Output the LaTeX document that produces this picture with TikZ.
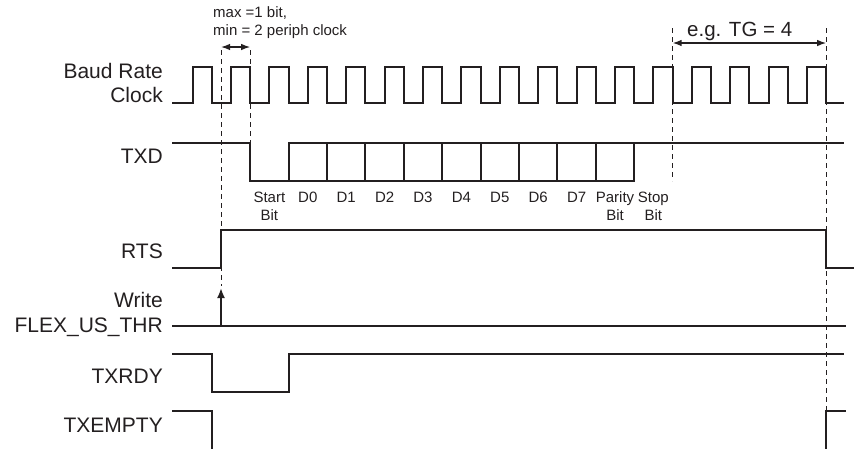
\documentclass[tikz,border=0pt]{standalone}
\usepackage{fontspec}
\setmainfont{Liberation Sans}
\usetikzlibrary{arrows.meta}
\definecolor{ink}{HTML}{231F20}
\begin{document}
\begin{tikzpicture}[x=1pt,y=-1pt,
  wave/.style={draw=ink, line width=2.1pt, line join=miter, line cap=rect},
  guide/.style={draw=ink, line width=0.9pt, dash pattern=on 5pt off 4pt},
  dimarrow/.style={draw=ink, line width=1.3pt, {Latex[length=9pt,width=6.5pt]}-{Latex[length=9pt,width=6.5pt]}},
  uparrow/.style={draw=ink, line width=1.9pt, -{Latex[length=10pt,width=8pt]}},
  sig/.style={anchor=base east, inner sep=0pt, font=\fontsize{21}{24}\selectfont, text=ink},
  bitlab/.style={anchor=base, inner sep=0pt, font=\fontsize{15}{18}\selectfont, text=ink},
  note/.style={anchor=base west, inner sep=0pt, font=\fontsize{15}{18}\selectfont, text=ink},
  bignote/.style={anchor=base west, inner sep=0pt, font=\fontsize{20.5}{24}\selectfont, text=ink}]
\useasboundingbox (0,0) rectangle (855,448);

% guide lines (drawn first, under waveforms)
\coordinate (g1t) at (221,50);   \coordinate (g1b) at (221,286);
\coordinate (g2t) at (250.2,50); \coordinate (g2b) at (250.2,143);
\coordinate (g3t) at (672.6,28); \coordinate (g3b) at (672.6,181);
\coordinate (g4t) at (826.2,28); \coordinate (g4b) at (826.2,411);
\draw[guide] (g1t) -- (g1b);
\draw[guide] (g2t) -- (g2b);
\draw[guide] (g3t) -- (g3b);
\draw[guide] (g4t) -- (g4b);

% signal labels
\node[sig] (lbaud) at (163,78) {Baud Rate};
\node[sig] (lclk)  at (163,102) {Clock};
\node[sig] (ltxd)  at (163,163) {TXD};
\node[sig] (lrts)  at (163,258) {RTS};
\node[sig] (lwr)   at (163,307) {Write};
\node[sig] (lthr)  at (163,332) {FLEX\_US\_THR};
\node[sig] (lrdy)  at (163,383) {TXRDY};
\node[sig] (lemp)  at (163,432) {TXEMPTY};

% Baud rate clock
\draw[wave] (173,103)
  \foreach \k in {0,...,16} {
    -- ({192.6+38.4*\k},103) -- ({192.6+38.4*\k},67)
    -- ({211.8+38.4*\k},67) -- ({211.8+38.4*\k},103) }
  -- (843,103);

% TXD
\draw[wave] (173,143) -- (250.2,143) -- (250.2,181) -- (634.2,181) -- (634.2,143);
\draw[wave] (288.6,181) -- (288.6,143) -- (843,143);
\foreach \j in {1,...,8} {
  \draw[wave] ({288.6+38.4*\j},143) -- ({288.6+38.4*\j},181);
}

% bit labels
\node[bitlab] (bstart) at (269.4,202) {Start};
\node[bitlab] (bstart2) at (269.4,220) {Bit};
\foreach \n in {0,...,7} {
  \node[bitlab] (bd\n) at ({307.8+38.4*\n},202) {D\n};
}
\node[bitlab] (bpar) at (615,202) {Parity};
\node[bitlab] (bpar2) at (615,220) {Bit};
\node[bitlab] (bstop) at (653.4,202) {Stop};
\node[bitlab] (bstop2) at (653.4,220) {Bit};

% RTS
\draw[wave] (173,268) -- (221,268) -- (221,230) -- (826.2,230) -- (826.2,268) -- (853,268);

% Write FLEX_US_THR
\coordinate (wbase) at (221,326);
\coordinate (wtip) at (221,288);
\draw[wave] (173,326) -- (845,326);
\draw[uparrow] (wbase) -- (wtip);

% TXRDY
\draw[wave] (173,354) -- (211.8,354) -- (211.8,392) -- (288.6,392) -- (288.6,354) -- (843,354);

% TXEMPTY
\draw[wave] (173,411) -- (211.8,411) -- (211.8,450);
\draw[wave] (826.2,450) -- (826.2,411) -- (845,411);

% annotations
\node[note] (nmax) at (213,17) {max =1 bit,};
\node[note] (nmin) at (213,35) {min = 2 periph clock};
\coordinate (a1l) at (221,47);
\coordinate (a1r) at (250.2,47);
\draw[dimarrow] (a1l) -- (a1r);

\node[bignote] (ntg) at (687,36) {e.g. TG = 4};
\coordinate (a2l) at (672.6,43);
\coordinate (a2r) at (826.2,43);
\draw[dimarrow] (a2l) -- (a2r);
\end{tikzpicture}
\end{document}
